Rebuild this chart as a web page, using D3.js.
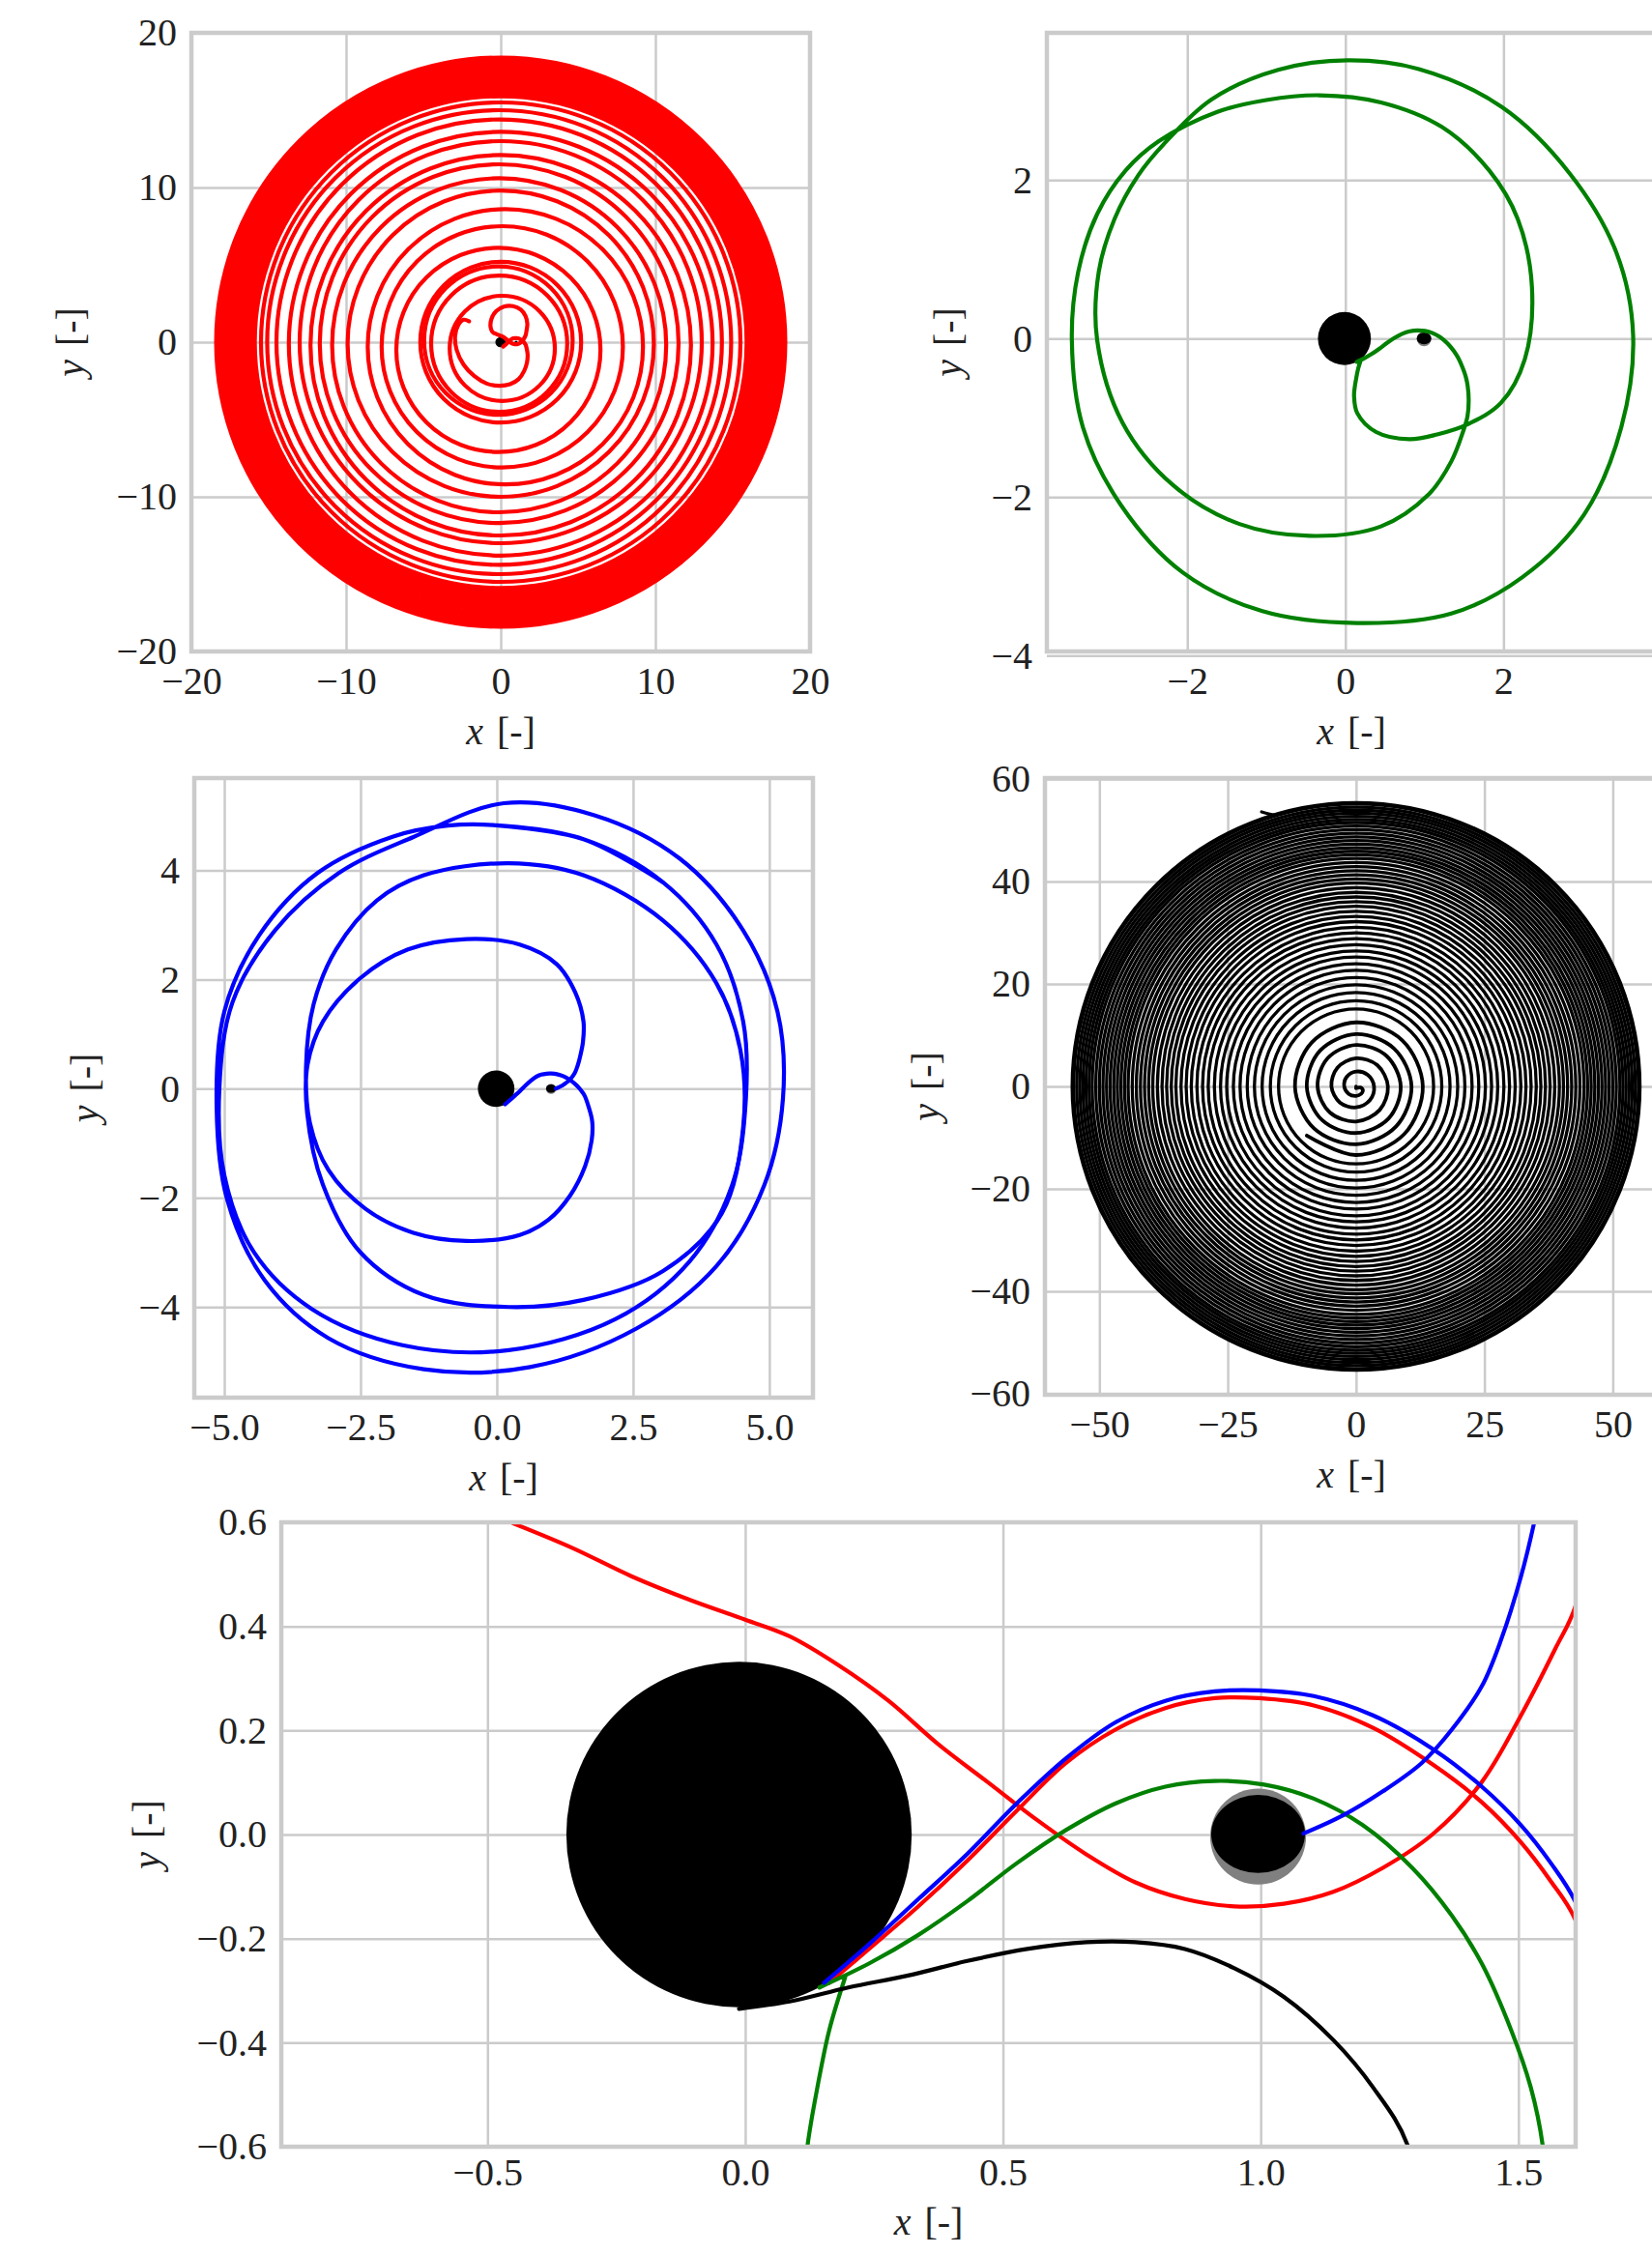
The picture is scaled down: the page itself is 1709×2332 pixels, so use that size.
<!DOCTYPE html>
<html><head><meta charset="utf-8">
<script src="https://cdn.jsdelivr.net/npm/d3@7/dist/d3.min.js"></script>
<style>html,body{margin:0;padding:0;background:#fff;overflow:hidden}</style>
</head><body>
<svg id="chart" width="1709" height="2332" xmlns="http://www.w3.org/2000/svg"></svg>
<script>
// ---------------- tick values ----------------
const ticksP1 = [-20,-10,0,10,20];
const ticksP2x = [-2,0,2];
const ticksP2y = [-4,-2,0,2];
const ticksP3x = [-5,-2.5,0,2.5,5];
const ticksP3y = [-4,-2,0,2,4];
const ticksP4x = [-50,-25,0,25,50];
const ticksP4y = [-60,-40,-20,0,20,40,60];
const ticksP5x = [-0.5,0,0.5,1,1.5];
const ticksP5y = [-0.6,-0.4,-0.2,0,0.2,0.4,0.6];

// ---------------- bodies (data units) ----------------
const earth = {x:-0.012, y:0, r:0.335};
const moonHalo = {x:0.995, y:-0.004, r:0.093};
const moon = {x:0.995, y:0.001, rx:0.091, ry:0.075};

// ---------------- red trajectory ----------------
const redLoop = [[-0.45,0.598],[-0.336,0.551],[-0.22,0.496],[-0.105,0.45],[0,0.413],[0.086,0.381],[0.18,0.326],[0.278,0.257],[0.374,0.174],[0.47,0.101],[0.566,0.028],[0.66,-0.037],[0.757,-0.092],[0.853,-0.124],[0.949,-0.138],[1.045,-0.133],[1.141,-0.110],[1.237,-0.064],[1.333,0.0],[1.429,0.101],[1.505,0.229],[1.572,0.358],[1.611,0.44],[1.67,0.75],[1.72,1.2],[1.6,1.7],[1.3,2.1],[0.8,2.33],[0.2,2.3],[-0.3,2.0],[-0.6,1.5],[-0.66,1.0],[-0.56,0.7],[-0.45,0.598]];
const redArc = [[0.163,-0.285],[0.24,-0.22],[0.336,-0.138],[0.431,-0.05],[0.527,0.046],[0.623,0.138],[0.719,0.202],[0.815,0.243],[0.911,0.262],[0.997,0.262],[1.103,0.248],[1.218,0.205],[1.333,0.135],[1.429,0.062],[1.505,-0.015],[1.563,-0.09],[1.611,-0.165],[1.68,-0.42],[1.74,-0.8],[1.7,-1.3],[1.52,-1.85],[1.15,-2.4],[0.6,-2.72],[-0.1,-2.82],[-0.9,-2.68],[-1.7,-2.2],[-2.4,-1.45],[-2.85,-0.5],[-2.95,0.4],[-2.75,1.1],[-2.4,1.45],[-2.05,1.35]];
const redRingR  = [3.4,4.4,4.8,5.2,6.6,7.8,8.9,9.9,10.8,11.6,12.3,13.0,13.7,14.4,15.0,15.5,15.9,16.1,16.3,16.5,16.7,16.9,17.1,17.3,17.5,17.7,17.9,18.1,18.3,18.4];
const redRingCx = [0.1,-0.1,-0.15,0.0,-0.15,0.1,0.3,0.0,-0.1,-0.1,0.0,0.0,0.0,-0.1,-0.1,0.0,0.0,0.0,0.0,0.0,0.0,0.0,0.0,0.0,0.0,0.0,0.0,0.0,0.0,0.0];
const redRingCy = [-0.4,-0.1,0.1,0.0,-0.5,-0.3,-0.3,-0.1,-0.2,-0.1,-0.2,0.0,-0.1,0.0,0.0,0.0,0.0,0.0,0.0,0.0,0.0,0.0,0.0,0.0,0.0,0.0,0.0,0.0,0.0,0.0];

// ---------------- green trajectory ----------------
const greenPath = [[0.144,-0.294],[0.24,-0.248],[0.336,-0.193],[0.431,-0.128],[0.527,-0.055],[0.623,0.009],[0.719,0.06],[0.815,0.092],[0.911,0.103],[1.007,0.096],[1.103,0.069],[1.198,0.018],[1.294,-0.064],[1.371,-0.156],[1.429,-0.248],[1.486,-0.376],[1.524,-0.486],[1.547,-0.597],[1.56,-0.78],[1.545,-0.98],[1.49,-1.17],[1.34,-1.55],[1.05,-1.97],[0.45,-2.37],[-0.45,-2.49],[-1.34,-2.34],[-2.18,-1.85],[-2.82,-1.06],[-3.14,-0.02],[-3.12,0.84],[-2.92,1.51],[-2.62,2.06],[-2.30,2.45],[-1.69,3.02],[-0.85,3.39],[0.03,3.51],[0.93,3.40],[1.98,2.92],[2.84,2.08],[3.43,1.08],[3.64,0.04],[3.49,-1.12],[3.02,-2.22],[2.24,-3.01],[1.34,-3.47],[0.15,-3.59],[-1.05,-3.44],[-2.06,-2.95],[-2.84,-2.10],[-3.32,-1.12],[-3.46,-0.02],[-3.38,0.84],[-3.14,1.57],[-2.78,2.12],[-2.36,2.49],[-1.62,2.86],[-1.0,3.01],[-0.33,3.07],[0.45,2.98],[1.22,2.67],[1.82,2.12],[2.18,1.51],[2.36,0.65],[2.27,-0.26],[1.97,-0.81],[1.55,-1.08],[1.16,-1.21],[0.81,-1.27],[0.39,-1.18],[0.15,-0.94],[0.11,-0.72],[0.121,-0.597],[0.14,-0.486],[0.163,-0.376],[0.194,-0.274]];

// ---------------- blue trajectory ----------------
const bluePath = [[0.153,-0.285],[0.24,-0.211],[0.336,-0.124],[0.431,-0.037],[0.527,0.06],[0.623,0.147],[0.719,0.216],[0.815,0.257],[0.911,0.275],[0.997,0.277],[1.103,0.266],[1.218,0.229],[1.333,0.165],[1.429,0.092],[1.505,0.018],[1.563,-0.055],[1.611,-0.13],[1.68,-0.32],[1.75,-0.6],[1.74,-0.95],[1.62,-1.42],[1.35,-1.95],[0.95,-2.4],[0.42,-2.68],[-0.56,-2.79],[-1.53,-2.64],[-2.41,-2.20],[-3.09,-1.49],[-3.43,-0.62],[-3.50,0.40],[-3.36,1.55],[-2.95,2.55],[-2.2,3.45],[-1.34,3.91],[0.22,4.13],[1.59,3.91],[3.05,3.08],[4.03,1.93],[4.47,0.70],[4.52,-0.70],[4.13,-2.28],[3.05,-3.34],[1.59,-3.87],[0.22,-4.0],[-1.34,-3.78],[-2.51,-2.99],[-3.19,-1.76],[-3.48,-0.44],[-3.47,0.45],[-3.19,1.23],[-2.51,2.02],[-1.63,2.55],[-0.56,2.74],[0.42,2.64],[1.10,2.28],[1.44,1.76],[1.59,1.23],[1.58,0.85],[1.53,0.597],[1.505,0.496],[1.467,0.376],[1.429,0.285],[1.371,0.202],[1.313,0.138],[1.237,0.083],[1.16,0.037],[1.083,0.002]];
const blueOuter = [[-0.07,4.83],[1.59,4.57],[3.05,3.78],[4.03,2.64],[4.52,1.23],[4.57,-0.18],[4.32,-1.76],[3.54,-3.16],[2.18,-4.22],[0.22,-4.79],[-1.73,-4.70],[-3.39,-4.04],[-4.46,-2.99],[-5.0,-1.58],[-5.09,0.0],[-4.85,1.58],[-4.07,2.90],[-2.90,3.95],[-1.53,4.61],[0.13,5.23],[1.79,5.01],[3.35,4.22],[4.52,2.90],[5.15,1.41],[5.25,-0.18],[4.91,-1.76],[4.03,-3.25],[2.57,-4.39],[0.61,-5.10],[-1.34,-5.14],[-3.09,-4.57],[-4.26,-3.51],[-4.95,-2.02],[-5.14,-0.35],[-5.0,1.41],[-4.36,2.81],[-3.29,3.95],[-1.9,4.62],[-0.9,4.82],[-0.07,4.83],[1.59,4.57],[3.05,3.78]];

// ---------------- black trajectory ----------------
const blackPath = [[-0.012,-0.335],[0.086,-0.321],[0.2,-0.294],[0.316,-0.271],[0.431,-0.243],[0.547,-0.22],[0.662,-0.207],[0.757,-0.207],[0.853,-0.22],[0.949,-0.257],[1.045,-0.312],[1.141,-0.395],[1.218,-0.486],[1.285,-0.597],[1.33,-0.85],[1.0,-1.45],[0,-1.85],[-1.45,-1.45],[-2.3,0],[-1.84,1.84],[0,2.9],[2.26,2.26],[3.5,0],[2.69,-2.69],[0,-4.1],[-3.15,-3.15],[-4.8,0],[-3.64,3.64],[0,5.5],[4.14,4.14],[6.2,0],[4.6,-4.6],[0,-6.85],[-5.09,-5.09],[-7.5,0],[-5.52,5.52],[0,8.1],[5.94,5.94],[8.7,0],[6.3,-6.3],[0,-9.1],[-6.6,-6.6],[-9.6,0],[-7.0,7.0],[0,10.2],[7.4,7.4],[10.8,0],[7.8,-7.8],[0,-11.3],[-8.2,-8.2],[-11.9,0],[-8.6,8.6],[0,12.5],[9.0,9.0],[13.0,0],[9.35,-9.35],[0,-13.4],[-9.6,-9.6]];
const blackRingR = [15.1,16.7,18.3,19.8,21.2,22.6,23.9,25.2,26.4,27.6,28.8,29.9,31.0,32.1,33.1,34.1,35.1,36.0,36.9,37.8,38.7,39.6,40.4,41.2,42.0,42.8,43.6,44.4,45.1,45.8,46.5,47.2,47.9,48.6,49.3,50.0,50.7,51.4,52.0,52.6,53.2,53.8,54.4,55.0,55.3];
const blackTail = [[-15.5,52.9],[-17.0,53.2],[-18.4,53.6]];

// ---------------- drawing ----------------
const svg = d3.select("#chart");
const FONT = '"Liberation Serif","Times New Roman",serif';
const FS = 40;
const LW = 4.2;
const LW_DENSE = 3.3;
const GRID = "#cbcbcb";

function panel(cfg){
  const [l,r,t,b] = cfg.box;
  const x = d3.scaleLinear().domain(cfg.xd).range([l,r]);
  const y = d3.scaleLinear().domain(cfg.yd).range([b,t]);
  const g = svg.append("g");
  const cid = "clip_"+cfg.id;
  g.append("clipPath").attr("id",cid).append("rect")
    .attr("x",l).attr("y",t).attr("width",r-l).attr("height",b-t);
  const xa = g.append("g").attr("transform",`translate(0,${b})`)
    .call(d3.axisBottom(x).tickValues(cfg.xt).tickFormat(d3.format(cfg.xf))
      .tickSize(-(b-t)).tickPadding(cfg.xpad));
  const ya = g.append("g").attr("transform",`translate(${l},0)`)
    .call(d3.axisLeft(y).tickValues(cfg.yt).tickFormat(d3.format(cfg.yf))
      .tickSize(-(r-l)).tickPadding(15));
  [xa,ya].forEach(a=>{
    a.select(".domain").remove();
    a.attr("font-family",FONT).attr("font-size",FS);
    a.selectAll("line").attr("stroke",GRID).attr("stroke-width",2.5);
    a.selectAll("text").attr("fill","#222");
  });
  const plot = g.append("g").attr("clip-path",`url(#${cid})`);
  const xl = g.append("text").attr("font-family",FONT).attr("font-size",FS).attr("fill","#222")
    .attr("text-anchor","middle").attr("x",(l+Math.min(r,cfg.xlabMid||r))/2).attr("y",b+cfg.xlabOff+10);
  xl.append("tspan").attr("font-style","italic").text("x");
  xl.append("tspan").attr("dx",14).text("[-]");
  const yl = g.append("text").attr("font-family",FONT).attr("font-size",FS).attr("fill","#222")
    .attr("text-anchor","middle").attr("transform",`translate(${l-cfg.ylabOff+12},${(t+b)/2}) rotate(-90)`);
  yl.append("tspan").attr("font-style","italic").text("y");
  yl.append("tspan").attr("dx",14).text("[-]");
  return {x,y,g,plot,l,r,t,b};
}

function spines(p){
  p.g.append("rect").attr("x",p.l).attr("y",p.t).attr("width",p.r-p.l).attr("height",p.b-p.t)
    .attr("fill","none").attr("stroke",GRID).attr("stroke-width",4.5);
}
function bodies(p){
  const sx = v=>p.x(v)-p.x(0), sy = v=>p.y(0)-p.y(v);
  p.plot.append("circle").attr("cx",p.x(earth.x)).attr("cy",p.y(earth.y)).attr("r",sx(earth.r)).attr("fill","#000");
  p.plot.append("circle").attr("cx",p.x(moonHalo.x)).attr("cy",p.y(moonHalo.y)).attr("r",sx(moonHalo.r)).attr("fill","#808080");
  p.plot.append("ellipse").attr("cx",p.x(moon.x)).attr("cy",p.y(moon.y)).attr("rx",sx(moon.rx)).attr("ry",sy(moon.ry)).attr("fill","#000");
}
function path(p, data, color, w){
  const line = d3.line().x(d=>p.x(d[0])).y(d=>p.y(d[1])).curve(d3.curveCatmullRom.alpha(0.5));
  p.plot.append("path").datum(data).attr("d",line).attr("fill","none")
    .attr("stroke",color).attr("stroke-width",w||LW).attr("stroke-linejoin","round").attr("stroke-linecap","round");
}
function rings(p, rs, cxs, cys, color, w){
  const sx = v=>p.x(v)-p.x(0);
  p.plot.selectAll(null).data(rs).enter().append("circle")
    .attr("cx",(d,i)=>p.x(cxs?cxs[i]:0)).attr("cy",(d,i)=>p.y(cys?cys[i]:0))
    .attr("r",d=>sx(d)).attr("fill","none").attr("stroke",color).attr("stroke-width",w||LW);
}

// Panel 1 : red
const P1 = panel({id:"p1", box:[198,838,34,674], xd:[-20,20], yd:[-20,20], xt:ticksP1, yt:ticksP1, xf:"d", yf:"d", xpad:16, xlabOff:86, ylabOff:124});
bodies(P1);
rings(P1, redRingR, redRingCx, redRingCy, "#ff0000");
path(P1, redArc, "#ff0000");
path(P1, redLoop, "#ff0000");
spines(P1);

// Panel 2 : green
const P2 = panel({id:"p2", box:[1083,1723,34,674], xd:[-3.776,4.05], yd:[-3.948,3.857], xt:ticksP2x, yt:ticksP2y, xf:"d", yf:"d", xpad:16, xlabOff:86, ylabOff:101, xlabMid:1713});
bodies(P2);
path(P2, greenPath, "#008000");
spines(P2);

// Panel 3 : blue
const P3 = panel({id:"p3", box:[201,841,805,1446], xd:[-5.55,5.8], yd:[-5.66,5.69], xt:ticksP3x, yt:ticksP3y, xf:".1f", yf:"d", xpad:16, xlabOff:86, ylabOff:112});
bodies(P3);
path(P3, bluePath, "#0000ff");
path(P3, blueOuter, "#0000ff");
spines(P3);

// Panel 4 : black
const P4 = panel({id:"p4", box:[1081,1721,805,1443], xd:[-60.6,59.9], yd:[-60.2,60.2], xt:ticksP4x, yt:ticksP4y, xf:"d", yf:"d", xpad:16, xlabOff:86, ylabOff:122, xlabMid:1715});
bodies(P4);
path(P4, blackPath, "#000000", 3.8);
rings(P4, blackRingR, null, null, "#000000", LW_DENSE);
path(P4, blackTail, "#000000", LW_DENSE);
spines(P4);

// Panel 5 : zoom
const P5 = panel({id:"p5", box:[291,1630,1575,2221], xd:[-0.9,1.611], yd:[-0.6,0.6], xt:ticksP5x, yt:ticksP5y, xf:".1f", yf:".1f", xpad:12, xlabOff:81, ylabOff:138});
bodies(P5);
path(P5, redLoop, "#ff0000");
path(P5, redArc, "#ff0000");
path(P5, greenPath, "#008000");
path(P5, blackPath, "#000000");
path(P5, bluePath, "#0000ff");
spines(P5);
</script>
</body></html>
